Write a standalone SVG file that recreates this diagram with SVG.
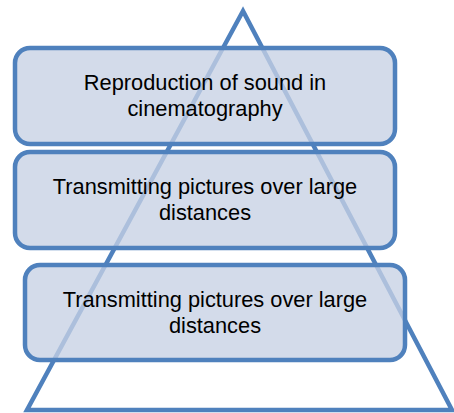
<svg xmlns="http://www.w3.org/2000/svg" width="454" height="413" viewBox="0 0 454 413">
<style>
.box{fill:#c6d1e4;fill-opacity:0.78;stroke:#4f81bd;stroke-width:4.5}
.tri{fill:none;stroke:#4f81bd;stroke-width:4.5;stroke-linejoin:miter}
.t{font-family:"Liberation Sans",Arial,sans-serif;font-size:21.8px;fill:#000;text-anchor:middle}
</style>
<rect width="454" height="413" fill="#fff"/>
<g id="triangle">
<polygon class="tri" points="243,11 27,410 452,410"/>
</g>
<g id="connectors"/>
<g id="node1">
<rect class="box" x="15" y="48" width="380" height="96" rx="15"/>
<text class="t" x="205" y="90">Reproduction of sound in</text>
<text class="t" x="205" y="116">cinematography</text>
</g>
<g id="node2">
<rect class="box" x="15" y="152" width="380" height="96" rx="15"/>
<text class="t" x="205" y="194">Transmitting pictures over large</text>
<text class="t" x="205" y="220">distances</text>
</g>
<g id="node3">
<rect class="box" x="25" y="265" width="380" height="95" rx="15"/>
<text class="t" x="215" y="307">Transmitting pictures over large</text>
<text class="t" x="215" y="333">distances</text>
</g>
</svg>
